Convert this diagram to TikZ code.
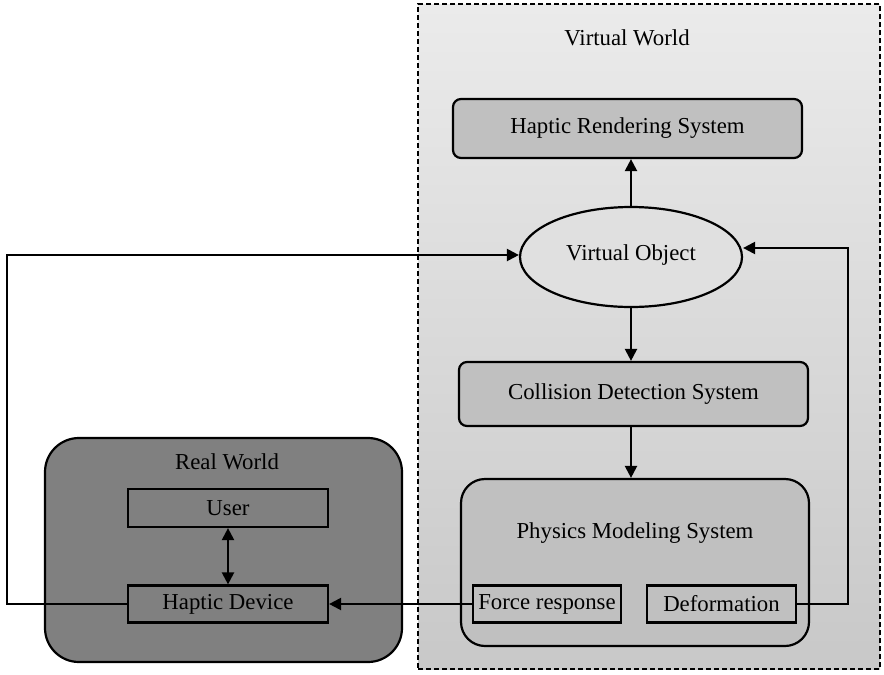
\documentclass[tikz,border=0pt]{standalone}
\usepackage{fontspec}
\setmainfont{Liberation Serif}
\usetikzlibrary{arrows.meta,shapes.geometric}
\definecolor{sysgray}{HTML}{C0C0C0}
\definecolor{realgray}{HTML}{808080}
\definecolor{vwtop}{HTML}{EBEBEB}
\definecolor{vwbottom}{HTML}{C8C8C8}
\definecolor{objgray}{HTML}{E0E0E0}
\begin{document}
\begin{tikzpicture}[x=0.5pt,y=-0.5pt,
  font=\fontsize{11.4}{13}\selectfont,
  sysbox/.style={draw, line width=1.1pt, fill=sysgray, rounded corners=4pt, inner sep=0pt},
  plainbox/.style={draw, line width=1.1pt, inner sep=0pt},
  conn/.style={line width=1.1pt, -{Triangle[length=6pt,width=6pt]}},
  biconn/.style={line width=1.1pt, {Triangle[length=6pt,width=6pt]}-{Triangle[length=6pt,width=6pt]}},
  lbl/.style={inner sep=0pt}]
\useasboundingbox (0,0) rectangle (884,675);

% Virtual world container
\node[draw, dash pattern=on 2.5pt off 1.5pt, line width=1pt, top color=vwtop, bottom color=vwbottom,
      minimum width=231pt, minimum height=332.5pt, inner sep=0pt] (vworld) at (649,336.5) {};
\node[lbl] (vwlabel) at (627,38) {Virtual World};

% Real world container
\node[draw, line width=1.1pt, fill=realgray, rounded corners=17pt,
      minimum width=178.5pt, minimum height=112pt, inner sep=0pt] (rworld) at (223.5,550) {};
\node[lbl] (rwlabel) at (227,462) {Real World};

% Systems in the virtual world
\node[sysbox, minimum width=174.5pt, minimum height=29.5pt] (hrs) at (627.5,128.5) {Haptic Rendering System};
\node[draw, ellipse, line width=1.1pt, fill=objgray, minimum width=111pt, minimum height=50pt, inner sep=0pt]
      (vo) at (631,257) {\raisebox{4pt}{Virtual Object}};
\node[sysbox, minimum width=174.5pt, minimum height=32pt] (cds) at (633.5,394) {Collision Detection System};
\node[sysbox, rounded corners=12pt, minimum width=174pt, minimum height=83.5pt] (pms) at (635,562.5) {};
\node[lbl] (pmslabel) at (635,533) {Physics Modeling System};
\node[plainbox, fill=sysgray, minimum width=74pt, minimum height=18.5pt] (force) at (547,604) {Force response};
\node[plainbox, fill=sysgray, minimum width=74.5pt, minimum height=18.5pt] (deform) at (721.5,604) {Deformation};

% Real world parts
\node[plainbox, fill=realgray, minimum width=100pt, minimum height=19pt] (user) at (228,508) {User};
\node[plainbox, fill=realgray, minimum width=100pt, minimum height=18.5pt] (hd) at (228,604) {Haptic Device};

% Bend points of the feedback loops
\coordinate (lturn) at (7,255);
\coordinate (rturn) at (848,248);

% Connectors
\draw[conn] (vo.north) -- (vo.north |- hrs.south);
\draw[conn] (vo.south) -- (vo.south |- cds.north);
\draw[conn] (cds.south -| vo.south) -- (vo.south |- pms.north);
\draw[conn] (force.west) -- (hd.east);
\draw[conn] (deform.east) -| (rturn) -- (rturn -| vo.east);
\draw[conn] (hd.west) -| (lturn) -- (lturn -| vo.west);
\draw[biconn] (user.south) -- (hd.north);
\end{tikzpicture}
\end{document}
